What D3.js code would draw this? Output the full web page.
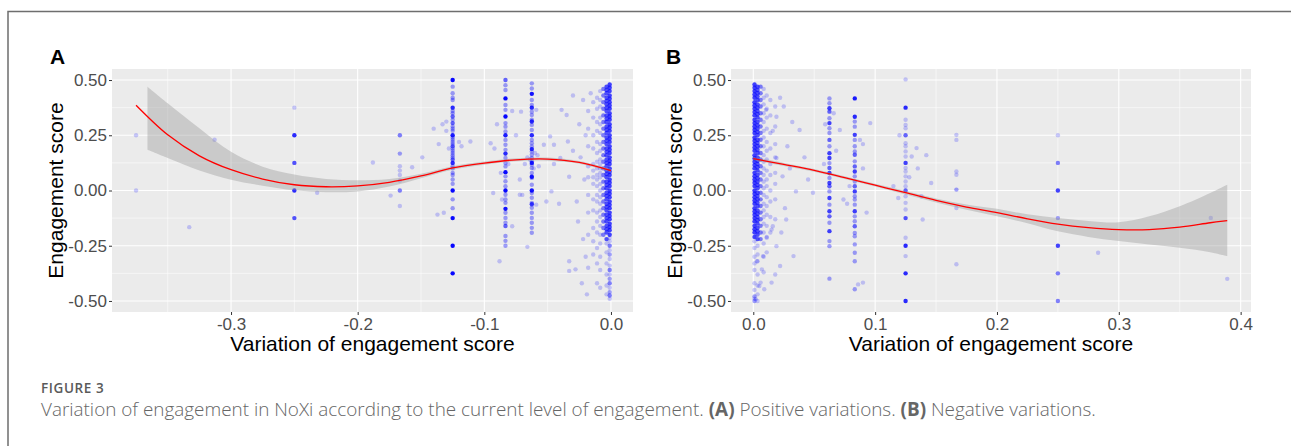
<!DOCTYPE html>
<html>
<head>
<meta charset="utf-8">
<script src="https://cdn.jsdelivr.net/npm/d3@7"></script>
<style>
  body { margin: 0; background: #fff; }
  svg { display: block; }
</style>
</head>
<body>
<svg id="fig" width="1291" height="446"></svg>
<script>
// ---- axis ticks ----
const yTicks = [-0.5, -0.25, 0, 0.25, 0.5];
const yTickLabels = ["-0.50", "-0.25", "0.00", "0.25", "0.50"];
const yMinor = [-0.375, -0.125, 0.125, 0.375];
const xTicksA = [-0.3, -0.2, -0.1, 0.0];
const xTickLabelsA = ["-0.3", "-0.2", "-0.1", "0.0"];
const xMinorA = [-0.35, -0.25, -0.15, -0.05];
const xTicksB = [0.0, 0.1, 0.2, 0.3, 0.4];
const xTickLabelsB = ["0.0", "0.1", "0.2", "0.3", "0.4"];
const xMinorB = [0.05, 0.15, 0.25, 0.35];

// ---- smooth fits (red line) and confidence ribbons ----
const fitAx = [-0.375, -0.35, -0.325, -0.3, -0.275, -0.25, -0.225, -0.2, -0.175, -0.15, -0.125, -0.1, -0.075, -0.05, -0.025, 0];
const fitAy = [0.386, 0.252, 0.157, 0.094, 0.052, 0.026, 0.017, 0.021, 0.037, 0.066, 0.102, 0.124, 0.139, 0.142, 0.127, 0.09];
const ribAx = [-0.366, -0.35, -0.325, -0.3, -0.275, -0.25, -0.225, -0.2, -0.175, -0.15, -0.125, -0.1, -0.075, -0.05, -0.025, 0];
const ribAlo = [0.184, 0.147, 0.091, 0.049, 0.022, 0.001, -0.008, -0.004, 0.018, 0.056, 0.094, 0.117, 0.132, 0.135, 0.121, 0.082];
const ribAhi = [0.470, 0.395, 0.282, 0.175, 0.108, 0.072, 0.052, 0.046, 0.052, 0.076, 0.110, 0.131, 0.146, 0.149, 0.133, 0.098];

const fitBx = [0, 0.025, 0.05, 0.075, 0.1, 0.125, 0.15, 0.175, 0.2, 0.225, 0.25, 0.275, 0.3, 0.325, 0.35, 0.375, 0.389];
const fitBy = [0.144, 0.118, 0.091, 0.058, 0.024, -0.01, -0.045, -0.075, -0.1, -0.128, -0.152, -0.168, -0.177, -0.177, -0.166, -0.146, -0.136];
const ribBlo = [0.136, 0.111, 0.085, 0.052, 0.018, -0.018, -0.054, -0.087, -0.117, -0.148, -0.185, -0.21, -0.229, -0.244, -0.259, -0.279, -0.297];
const ribBhi = [0.152, 0.125, 0.097, 0.064, 0.030, -0.002, -0.036, -0.063, -0.083, -0.108, -0.125, -0.138, -0.144, -0.117, -0.071, -0.011, 0.026];

// ---- scatter, panel A (columns: x, weight per point, y values; [y, n] = n stacked points) ----
const colsA = [
  [-0.375, 1, [0.25, 0.0]],
  [-0.25, 1, [0.375, [0.25, 8], [0.125, 5], [0, 8], [-0.125, 5]]],
  [-0.1667, 1, [[0.25, 3], [0.167, 2], 0.11, 0.09, 0.07, 0.045, [0, 3], -0.07]],
  [-0.125, 2, [[0.5, 8], 0.47, 0.44, 0.42, 0.41, [0.375, 4], 0.36, 0.35, [0.335, 2], 0.32, [0.305, 2], 0.29, 0.28, 0.27, [0.25, 5], 0.24, 0.23, 0.22, 0.21, [0.2, 2], 0.19, 0.18, 0.17, 0.16, 0.15, [0.14, 2], [0.125, 4], 0.11, 0.1, 0.08, 0.07, 0.05, 0.03, [0, 8], -0.04, -0.08, [-0.125, 8], [-0.25, 8], [-0.375, 8]]],
  [-0.0833, 2, [[0.5, 2], 0.477, 0.455, [0.417, 8], 0.387, 0.365, [0.335, 8], 0.305, 0.289, 0.267, [0.25, 5], 0.229, 0.207, 0.184, [0.167, 4], 0.147, 0.124, 0.109, [0.083, 8], 0.064, 0.042, 0.019, [0, 8], -0.019, -0.041, -0.056, [-0.083, 6], -0.101, -0.124, -0.146, [-0.161, 2], -0.206, -0.228, -0.25]],
  [-0.0625, 2, [0.485, 0.462, [0.4375, 6], 0.41, 0.387, [0.375, 4], 0.357, 0.342, 0.32, [0.3125, 4], 0.297, 0.274, [0.25, 4], 0.229, 0.214, 0.199, [0.1875, 4], 0.177, 0.162, 0.147, 0.132, [0.125, 5], 0.117, 0.102, 0.079, [0.0625, 5], 0.057, 0.026, [0, 6], -0.011, -0.033, -0.056, [-0.0625, 3], -0.078, -0.101, -0.124, -0.146, -0.169, -0.191]],
  [-0.001, 6, [0.48, 0.465, 0.45, 0.43, 0.415, 0.40, 0.385, 0.37, 0.35, 0.335, 0.32, 0.30, 0.285, 0.27, 0.25, 0.235, 0.22, 0.20, 0.185, 0.17, 0.15, 0.135, 0.12, 0.10, 0.085, 0.07, 0.05, 0.035, 0.02, 0.0, -0.015, -0.03, -0.05, -0.065, -0.08, -0.10, -0.115, -0.13, -0.15, -0.165, -0.18, -0.2]],
  [-0.001, 1, [-0.215, -0.23, [-0.25, 3], -0.27, [-0.29, 2], -0.31, -0.34, [-0.36, 3], -0.38, [-0.40, 2], [-0.42, 3], -0.44, [-0.46, 2], [-0.475, 3], -0.49]],
  [-0.0035, 5, [0.47, 0.455, 0.44, 0.42, 0.405, 0.39, 0.375, 0.36, 0.34, 0.325, 0.31, 0.29, 0.275, 0.26, 0.24, 0.225, 0.21, 0.19, 0.175, 0.16, 0.14, 0.125, 0.11, 0.09, 0.075, 0.06, 0.04, 0.025, 0.01, -0.01, -0.025, -0.04, -0.06, -0.075, -0.09, -0.11, -0.125, -0.14, -0.16, -0.175, -0.19, -0.22]],
  [-0.0035, 1, [-0.24, -0.28, -0.33, -0.38, -0.43, -0.47]],
  [-0.006, 3, [0.46, 0.43, 0.40, 0.37, 0.34, 0.31, 0.28, 0.25, 0.22, 0.19, 0.16, 0.13, 0.10, 0.07, 0.04, 0.01, -0.02, -0.05, -0.08, -0.11, -0.14, -0.17, -0.2]],
  [-0.0085, 1, [0.45, 0.41, 0.38, 0.33, 0.3, 0.26, 0.21, 0.18, 0.14, 0.12, 0.1, 0.08, 0.06, 0.03, 0.0, -0.03, -0.06, -0.09, -0.12, -0.16, -0.2, -0.24, -0.3, -0.36, -0.44]],
  [-0.011, 1, [0.42, 0.37, 0.31, 0.27, 0.22, 0.17, 0.13, 0.1, 0.07, 0.05, 0.02, -0.02, -0.05, -0.1, -0.14, -0.19, -0.26, -0.33, -0.42]],
  [-0.014, 1, [0.4, 0.33, 0.25, 0.19, 0.12, 0.09, 0.06, 0.03, -0.04, -0.09, -0.17, -0.23, -0.29]],
  [-0.018, 1, [0.36, 0.28, 0.2, 0.11, 0.06, -0.02, -0.1, -0.2, -0.35]]
];
const looseA = [
  [-0.313, 0.23], [-0.333, -0.166], [-0.232, -0.01], [-0.188, 0.127], [-0.174, -0.023], [-0.157, 0.105],
  [-0.149, 0.15], [-0.137, -0.109], [-0.132, -0.101], [-0.136, 0.21], [-0.133, 0.3], [-0.13, 0.27],
  [-0.13, 0.312], [-0.14, 0.28], [-0.12, 0.22], [-0.118, 0.2], [-0.128, 0.19], [-0.111, 0.222],
  [-0.088, -0.32], [-0.066, -0.255], [-0.039, 0.365], [-0.035, 0.342], [-0.048, 0.245], [-0.034, 0.222],
  [-0.03, 0.18], [-0.033, 0.062], [-0.041, -0.06], [-0.051, -0.05], [-0.026, -0.14], [-0.033, -0.32],
  [-0.028, -0.357], [-0.033, -0.364], [-0.09, 0.3], [-0.092, 0.19], [-0.078, 0.36], [-0.075, 0.25],
  [-0.072, 0.05], [-0.07, -0.02], [-0.058, 0.16], [-0.066, 0.15], [-0.068, 0.12], [-0.057, 0.11],
  [-0.06, 0.17], [-0.093, -0.011], [-0.095, 0.214], [-0.071, 0.357], [-0.059, 0.365], [-0.053, 0.207],
  [-0.045, 0.207], [-0.04, 0.147], [-0.047, -0.004], [-0.059, -0.064], [-0.072, -0.019], [-0.086, -0.041],
  [-0.078, -0.162], [-0.022, 0.41], [-0.025, 0.3], [-0.02, 0.25], [-0.024, 0.15], [-0.021, 0.05],
  [-0.027, -0.05], [-0.022, -0.22], [-0.02, -0.3], [-0.03, 0.43], [-0.045, 0.12], [-0.016, 0.44],
  [-0.023, -0.42], [-0.019, -0.47], [-0.064, 0.14], [-0.061, 0.1], [-0.087, 0.08], [-0.081, 0.12]
];

// ---- scatter, panel B ----
const colsB = [
  [0.001, 6, [0.48, 0.465, 0.45, 0.435, 0.42, 0.40, 0.385, 0.37, 0.355, 0.34, 0.32, 0.305, 0.29, 0.275, 0.26, 0.24, 0.225, 0.21, 0.195, 0.18, 0.16, 0.145, 0.13, 0.115, 0.10, 0.08, 0.065, 0.05, 0.035, 0.02, 0.0, -0.015, -0.03, -0.045, -0.06, -0.08, -0.095, -0.11, -0.125, -0.14, -0.16, -0.175, -0.19, -0.21]],
  [0.001, 1, [-0.23, -0.26, -0.3, -0.33, -0.36, -0.42, -0.45, [-0.48, 2], -0.49, [-0.5, 2]]],
  [0.0035, 5, [0.47, 0.455, 0.44, 0.425, 0.41, 0.39, 0.375, 0.36, 0.345, 0.33, 0.31, 0.295, 0.28, 0.265, 0.25, 0.23, 0.215, 0.2, 0.185, 0.17, 0.15, 0.135, 0.12, 0.105, 0.09, 0.07, 0.055, 0.04, 0.025, 0.01, -0.01, -0.025, -0.04, -0.055, -0.07, -0.09, -0.105, -0.12, -0.135, -0.15, -0.17, -0.185, -0.2, -0.22]],
  [0.0035, 1, [-0.25, -0.29, -0.32, -0.38, -0.43, -0.47, -0.5]],
  [0.006, 3, [0.47, 0.44, 0.41, 0.38, 0.35, 0.32, 0.29, 0.26, 0.23, 0.2, 0.17, 0.14, 0.11, 0.08, 0.05, 0.02, -0.01, -0.04, -0.07, -0.1, -0.13, -0.16, -0.19, -0.22]],
  [0.0085, 1, [0.46, 0.42, 0.39, 0.35, 0.31, 0.27, 0.24, 0.2, 0.16, 0.13, 0.1, 0.07, 0.04, 0.01, -0.02, -0.06, -0.09, -0.12, -0.15, -0.19, -0.24, -0.3, -0.37]],
  [0.011, 1, [0.43, 0.37, 0.33, 0.28, 0.22, 0.18, 0.14, 0.09, 0.05, 0.02, -0.03, -0.07, -0.11, -0.16, -0.21, -0.28]],
  [0.014, 1, [0.41, 0.34, 0.26, 0.19, 0.12, 0.07, 0.0, -0.05, -0.12, -0.19]],
  [0.018, 1, [0.38, 0.29, 0.21, 0.15, 0.08, 0.03, -0.04, -0.13]],
  [0.0625, 2, [0.417, 0.395, [0.372, 3], [0.357, 2], 0.327, [0.305, 3], 0.282, 0.26, [0.229, 2], 0.2, [0.169, 3], [0.147, 3], 0.124, [0.102, 2], [0.079, 3], 0.057, [0.034, 3], [0.019, 2], -0.004, [-0.034, 3], -0.064, [-0.094, 3], [-0.117, 2], -0.146, [-0.184, 3], -0.229, -0.252, -0.399]],
  [0.0833, 2, [[0.417, 5], [0.334, 4], 0.312, 0.289, [0.252, 3], 0.229, 0.2, 0.177, [0.162, 2], 0.132, [0.109, 2], [0.086, 3], 0.064, 0.041, [0.019, 2], [-0.004, 3], -0.026, -0.041, -0.064, [-0.094, 3], -0.117, -0.139, [-0.162, 2], -0.192, -0.207, -0.244, -0.282, -0.32, -0.447]],
  [0.125, 1, [0.503, [0.375, 8], 0.32, 0.297, 0.282, [0.25, 4], 0.214, 0.2, 0.177, 0.154, [0.125, 6], 0.102, 0.086, 0.064, 0.041, 0.019, [0.0, 4], -0.026, -0.056, -0.086, [-0.125, 5], -0.214, [-0.25, 8], -0.297, [-0.375, 8], [-0.5, 8]]],
  [0.1667, 1, [0.252, 0.229, 0.086, 0.071, [0.004, 2], -0.079, -0.334]],
  [0.25, 1, [0.25, [0.125, 3], [0, 6], [-0.125, 2], [-0.25, 6], [-0.375, 3], [-0.5, 3]]]
];
const looseB = [
  [0.283, -0.282], [0.3755, -0.124], [0.389, -0.4], [0.096, 0.305], [0.119, -0.034], [0.134, 0.192],
  [0.13, 0.154], [0.135, 0.1], [0.138, -0.026], [0.139, -0.131], [0.115, 0.02], [0.146, 0.034],
  [0.0105, 0.365], [0.019, 0.334], [0.025, 0.38], [0.038, 0.274], [0.049, -0.01], [0.035, -0.004],
  [0.024, 0.064], [0.019, 0.147], [0.028, 0.2], [0.022, 0.42], [0.03, 0.1], [0.042, 0.15],
  [0.016, 0.27], [0.032, 0.31], [0.045, 0.05], [0.026, -0.08], [0.002, -0.492], [0.005, -0.432],
  [0.006, -0.417], [0.007, -0.357], [0.003, -0.32], [0.008, -0.297], [0.011, -0.214], [0.016, -0.162],
  [0.018, -0.38], [0.022, -0.342], [0.033, -0.297], [0.019, -0.252], [0.015, -0.417], [0.009, -0.447],
  [0.023, -0.19], [0.027, -0.131], [0.015, -0.177], [0.071, 0.274], [0.0875, 0.229], [0.09, 0.21],
  [0.074, -0.041], [0.077, -0.06], [0.086, -0.425], [0.09, -0.417], [0.066, 0.35], [0.059, 0.3],
  [0.068, 0.18], [0.058, 0.12], [0.079, 0.02], [0.09, 0.1], [0.093, -0.1], [0.128, 0.06],
  [0.12, 0.25], [0.142, 0.16]
];

// ---- drawing ----
const svg = d3.select("#fig");
const panelTop = 69, panelBottom = 312;
const alpha = 0.2;

// figure frame (top and left edge)
svg.append("path")
  .attr("d", "M8,446 V11.5 H1291")
  .attr("fill", "none")
  .attr("stroke", "#6e6e6e")
  .attr("stroke-width", 1.5);

function flatten(cols, loose) {
  let pts = [];
  cols.forEach(function(c) {
    c[2].forEach(function(v) {
      if (Array.isArray(v)) pts.push([c[0], v[0], v[1] * c[1]]);
      else pts.push([c[0], v, c[1]]);
    });
  });
  loose.forEach(function(p) { pts.push([p[0], p[1], 1]); });
  return pts;
}

function drawPanel(p) {
  const x = d3.scaleLinear().domain(p.xDomain).range([p.left, p.right]);
  const y = d3.scaleLinear().domain([-0.55, 0.55]).range([panelBottom, panelTop]);
  const g = svg.append("g");

  g.append("rect")
    .attr("x", p.left).attr("y", panelTop)
    .attr("width", p.right - p.left).attr("height", panelBottom - panelTop)
    .attr("fill", "#ebebeb");

  // minor grid
  g.append("g").selectAll("line").data(p.xMinor).join("line")
    .attr("x1", d => x(d)).attr("x2", d => x(d)).attr("y1", panelTop).attr("y2", panelBottom)
    .attr("stroke", "#fff").attr("stroke-width", 0.55);
  g.append("g").selectAll("line").data(yMinor).join("line")
    .attr("x1", p.left).attr("x2", p.right).attr("y1", d => y(d)).attr("y2", d => y(d))
    .attr("stroke", "#fff").attr("stroke-width", 0.55);
  // major grid
  g.append("g").selectAll("line").data(p.xTicks).join("line")
    .attr("x1", d => x(d)).attr("x2", d => x(d)).attr("y1", panelTop).attr("y2", panelBottom)
    .attr("stroke", "#fff").attr("stroke-width", 1.1);
  g.append("g").selectAll("line").data(yTicks).join("line")
    .attr("x1", p.left).attr("x2", p.right).attr("y1", d => y(d)).attr("y2", d => y(d))
    .attr("stroke", "#fff").attr("stroke-width", 1.1);

  // points
  g.append("g").selectAll("circle").data(p.points).join("circle")
    .attr("cx", d => x(d[0]))
    .attr("cy", d => y(d[1]))
    .attr("r", 2.2)
    .attr("fill", "#0000ff")
    .attr("fill-opacity", d => 1 - Math.pow(1 - alpha, d[2]));

  // confidence ribbon
  const area = d3.area()
    .x((d, i) => x(p.ribX[i]))
    .y0((d, i) => y(p.ribLo[i]))
    .y1((d, i) => y(p.ribHi[i]))
    .curve(d3.curveCatmullRom);
  g.append("path").datum(p.ribX)
    .attr("d", area)
    .attr("fill", "#999999").attr("fill-opacity", 0.4);

  // fitted line
  const line = d3.line()
    .x((d, i) => x(p.fitX[i]))
    .y((d, i) => y(p.fitY[i]))
    .curve(d3.curveCatmullRom);
  g.append("path").datum(p.fitX)
    .attr("d", line)
    .attr("fill", "none").attr("stroke", "#ff0000").attr("stroke-width", 1.3);

  // axes
  const yAxis = d3.axisLeft(y).tickValues(yTicks)
    .tickFormat((d, i) => yTickLabels[i]).tickSize(3).tickPadding(2);
  const ya = g.append("g").attr("transform", "translate(" + p.left + ",0)").call(yAxis);
  const xAxis = d3.axisBottom(x).tickValues(p.xTicks)
    .tickFormat((d, i) => p.xLabels[i]).tickSize(3).tickPadding(3);
  const xa = g.append("g").attr("transform", "translate(0," + panelBottom + ")").call(xAxis);
  [ya, xa].forEach(function(a) {
    a.select(".domain").remove();
    a.selectAll(".tick line").attr("stroke", "#333").attr("stroke-width", 1);
    a.selectAll(".tick text")
      .attr("fill", "#4d4d4d")
      .style("font-family", "'Liberation Sans', Arial, sans-serif")
      .style("font-size", "17px");
  });

  // axis titles
  g.append("text")
    .attr("transform", "translate(" + p.yTitleX + "," + ((panelTop + panelBottom) / 2) + ") rotate(-90)")
    .attr("text-anchor", "middle")
    .style("font-family", "'Liberation Sans', Arial, sans-serif")
    .style("font-size", "21px")
    .attr("fill", "#000")
    .text("Engagement score");
  g.append("text")
    .attr("x", (p.left + p.right) / 2).attr("y", 351)
    .attr("text-anchor", "middle")
    .style("font-family", "'Liberation Sans', Arial, sans-serif")
    .style("font-size", "21px")
    .attr("fill", "#000")
    .text("Variation of engagement score");

  // panel tag
  g.append("text")
    .attr("x", p.tagX).attr("y", 63.5)
    .style("font-family", "'Liberation Sans', Arial, sans-serif")
    .style("font-size", "21px").style("font-weight", "bold")
    .text(p.tag);
}

drawPanel({
  tag: "A", tagX: 50, left: 112, right: 633, xDomain: [-0.394, 0.0174],
  xTicks: xTicksA, xLabels: xTickLabelsA, xMinor: xMinorA, yTitleX: 63,
  points: flatten(colsA, looseA),
  fitX: fitAx, fitY: fitAy, ribX: ribAx, ribLo: ribAlo, ribHi: ribAhi
});
drawPanel({
  tag: "B", tagX: 666, left: 731, right: 1251, xDomain: [-0.0183, 0.4085],
  xTicks: xTicksB, xLabels: xTickLabelsB, xMinor: xMinorB, yTitleX: 681.5,
  points: flatten(colsB, looseB),
  fitX: fitBx, fitY: fitBy, ribX: fitBx, ribLo: ribBlo, ribHi: ribBhi
});

// caption
svg.append("text")
  .attr("x", 41).attr("y", 393)
  .style("font-family", "'Open Sans', sans-serif")
  .style("font-size", "13.5px").style("font-weight", "600")
  .style("letter-spacing", "0.6px")
  .attr("fill", "#5a5a5a")
  .text("FIGURE 3");
const cap = svg.append("text")
  .attr("x", 41).attr("y", 416)
  .style("font-family", "'Open Sans', sans-serif")
  .style("font-size", "18.9px").style("font-weight", "300")
  .attr("fill", "#666");
cap.append("tspan").text("Variation of engagement in NoXi according to the current level of engagement. ");
cap.append("tspan").style("font-weight", "700").text("(A)");
cap.append("tspan").text(" Positive variations. ");
cap.append("tspan").style("font-weight", "700").text("(B)");
cap.append("tspan").text(" Negative variations.");
</script>
</body>
</html>
